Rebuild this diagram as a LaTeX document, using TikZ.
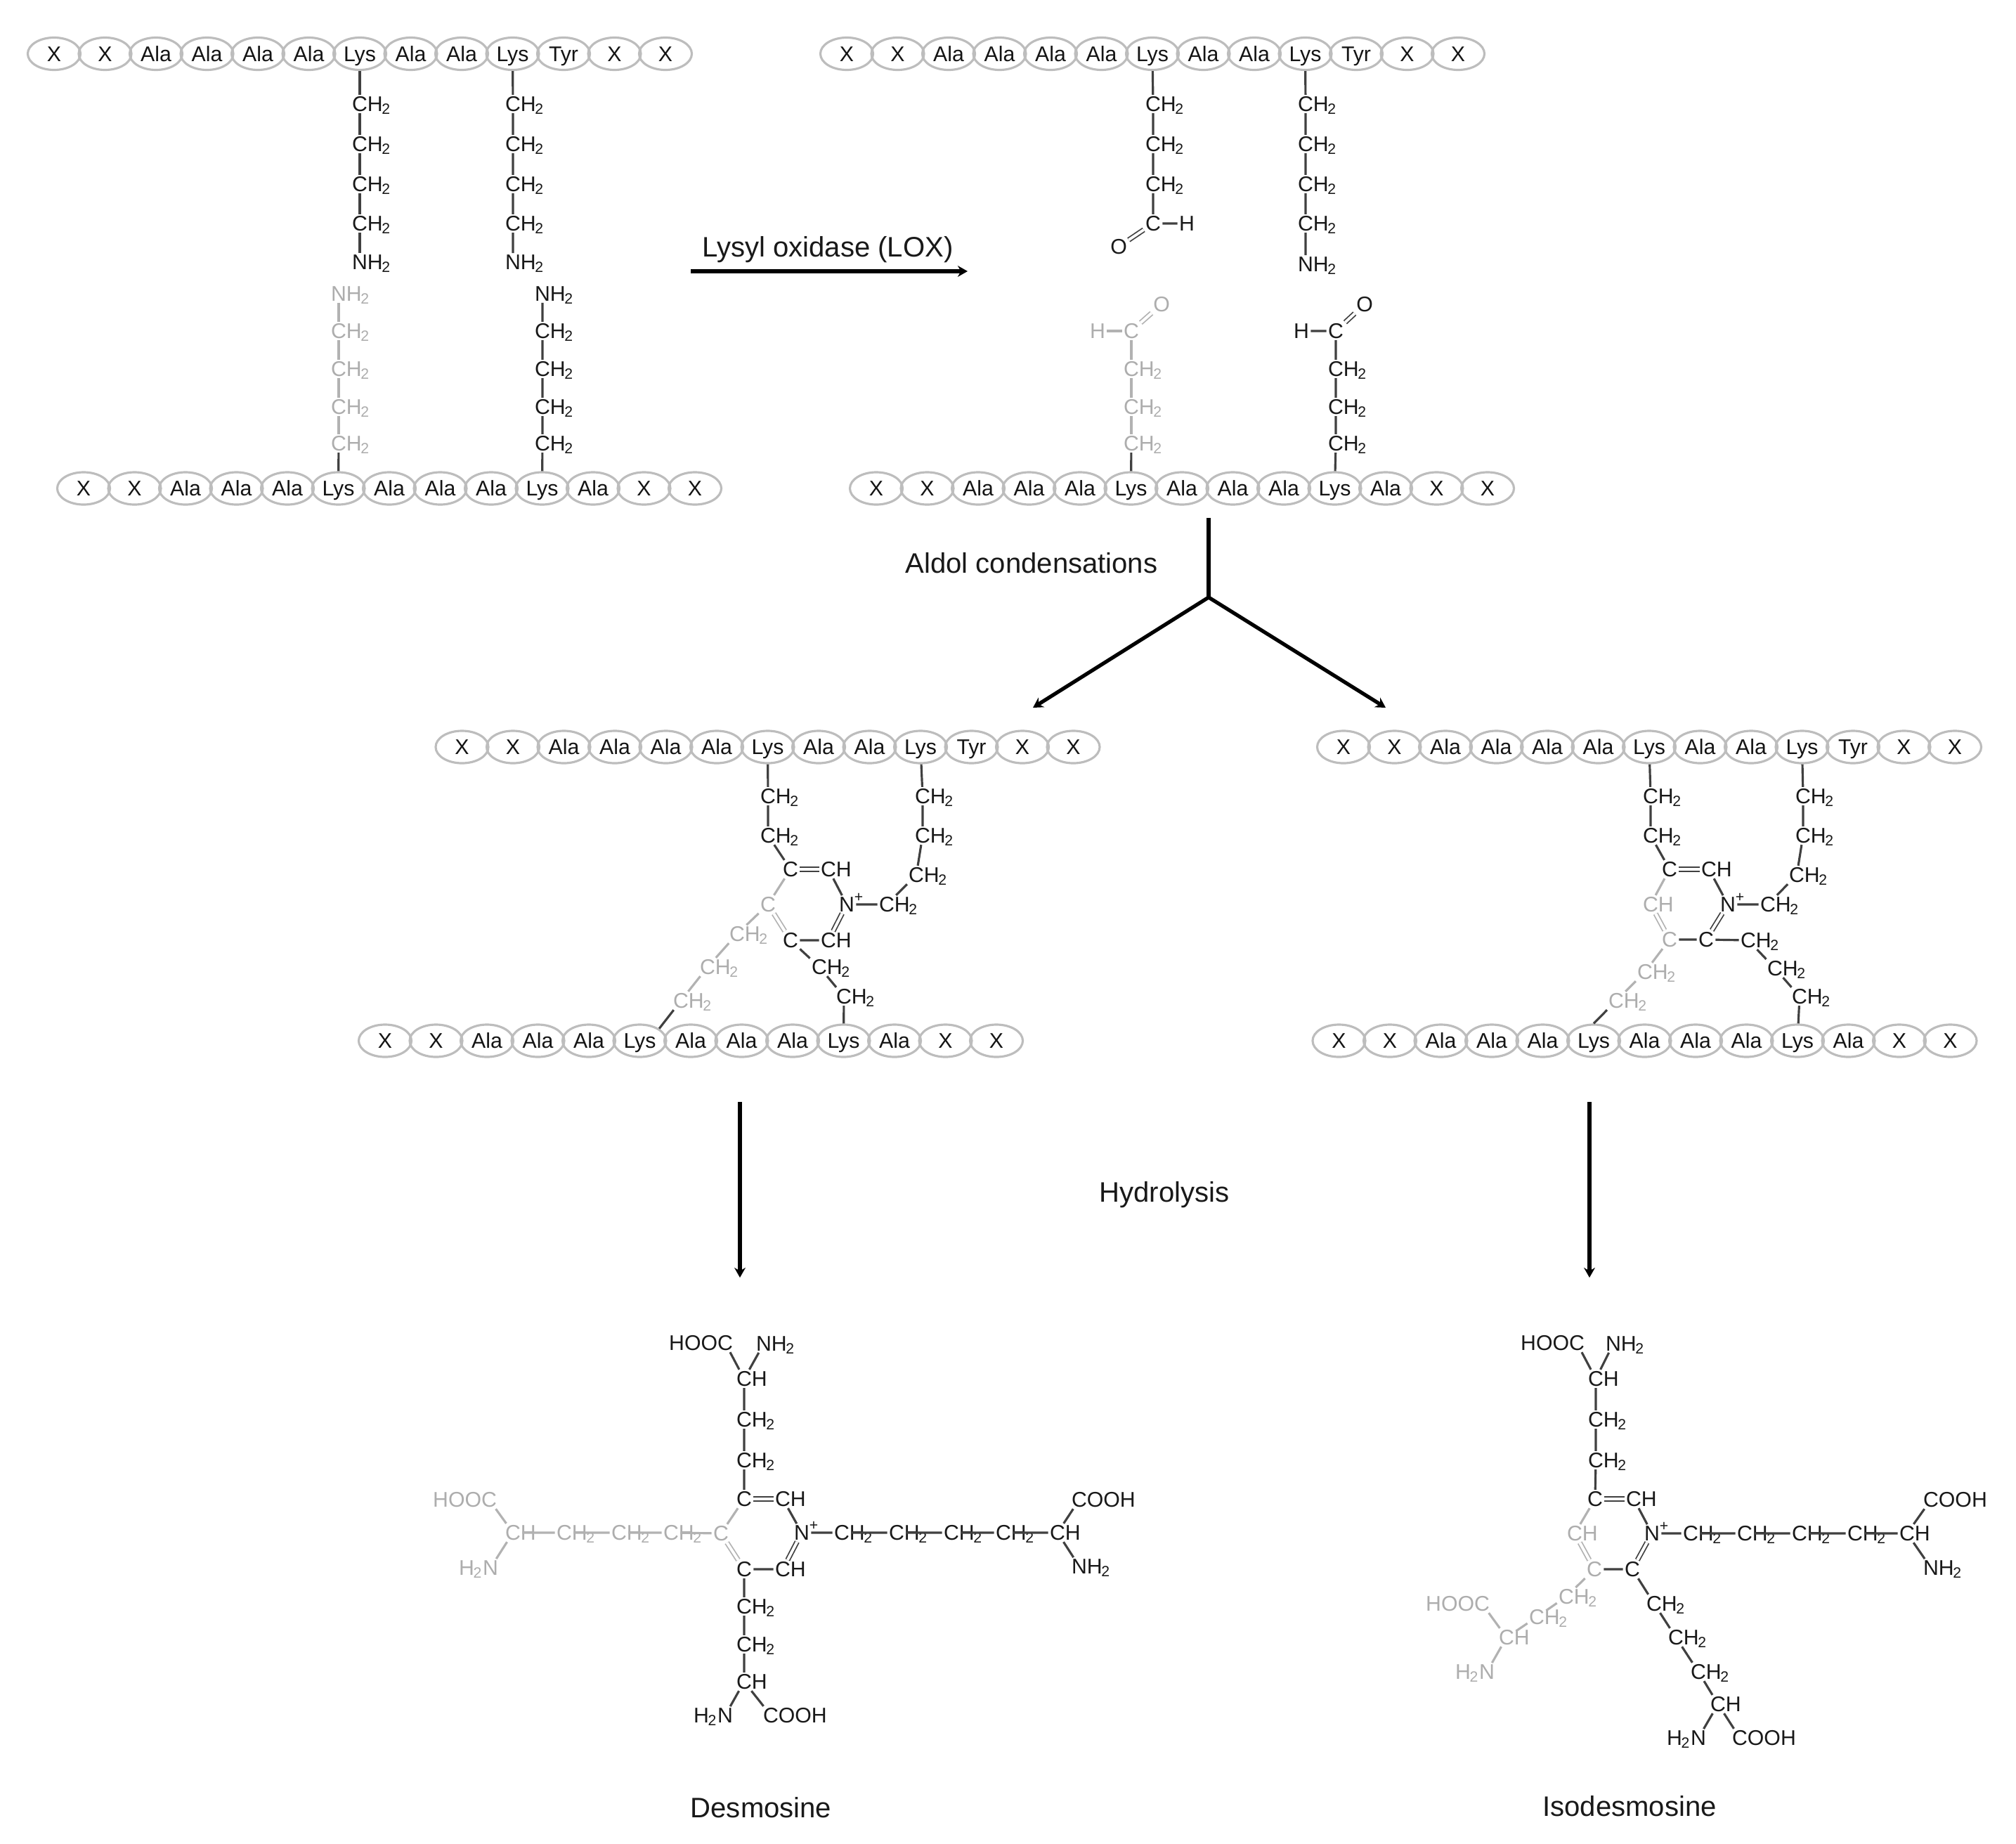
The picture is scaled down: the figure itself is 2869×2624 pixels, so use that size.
\documentclass[tikz,border=0pt]{standalone}
\usepackage{fontspec}
\setmainfont{Liberation Sans}
\usetikzlibrary{arrows.meta, shapes.geometric}

\newcommand{\subtwo}{\kern-0.4pt\textsubscript{2}}
\newcommand{\chtwo}{C\rlap{\smash{H\subtwo}}}
\newcommand{\chone}{C\rlap{H}}
\newcommand{\nhtwo}{N\rlap{\smash{H\subtwo}}}
\newcommand{\htwon}{\llap{\smash{H\subtwo}}N}
\newcommand{\hooc}{\llap{HOO}C}
\newcommand{\cooh}{C\rlap{OOH}}
\newcommand{\nplus}{N\rlap{\smash{\textsuperscript{+}}}}
\newcommand{\upperseq}{X,X,Ala,Ala,Ala,Ala,Lys,Ala,Ala,Lys,Tyr,X,X}
\newcommand{\lowerseq}{X,X,Ala,Ala,Ala,Lys,Ala,Ala,Ala,Lys,Ala,X,X}
\newcommand{\peptide}[4]{\foreach \res [count=\i] in #4 {\node[bead] (#1_\i) at ({#2+72.5*(\i-1)},#3) {\res};}}

\tikzset{
  bead/.style={ellipse,draw=black!26,line width=0.9pt,minimum width=0.75cm,minimum height=0.46cm,inner sep=0pt,
    text height=6.2pt,text depth=0pt,font=\fontsize{8.6}{10}\selectfont,text=black!92},
  atom/.style={inner sep=0.5pt,font=\fontsize{8.6}{10}\selectfont,text=black!90},
  faint/.style={atom,text=black!32},
  bond/.style={draw=black!75,line width=0.9pt},
  fbond/.style={draw=black!30,line width=0.9pt},
  dbl/.style={bond,double=white,double distance=1.1pt,line width=0.5pt},
  fdbl/.style={fbond,double=white,double distance=1.1pt,line width=0.5pt},
  caption/.style={inner sep=0pt,font=\fontsize{11.4}{13}\selectfont,text=black!90},
  flow/.style={draw=black,line width=1.5pt,-{Stealth[length=4pt,width=4.5pt]}},
}

\begin{document}
\begin{tikzpicture}[x=0.01cm,y=-0.01cm]
  \useasboundingbox (0,0) rectangle (2869,2624);

  % step one, before the enzyme
  \peptide{a}{77}{76.5}{\upperseq}
  \peptide{b}{119}{695}{\lowerseq}
  \foreach \y [count=\i] in {148,205,262,318} {
    \node[atom] (al_\i) at (512,\y) {\chtwo};
    \node[atom] (ar_\i) at (730,\y) {\chtwo};
  }
  \node[atom] (al_5) at (512,373) {\nhtwo};
  \node[atom] (ar_5) at (730,373) {\nhtwo};
  \node[faint] (bl_5) at (482,418) {\nhtwo};
  \node[atom] (br_5) at (772,418) {\nhtwo};
  \foreach \y [count=\i] in {631,579,525,471} {
    \node[faint] (bl_\i) at (482,\y) {\chtwo};
    \node[atom] (br_\i) at (772,\y) {\chtwo};
  }
  \draw[bond] (a_7) -- (al_1) -- (al_2) -- (al_3) -- (al_4) -- (al_5);
  \draw[bond] (a_10) -- (ar_1) -- (ar_2) -- (ar_3) -- (ar_4) -- (ar_5);
  \draw[bond] (b_6) -- (bl_1);
  \draw[fbond] (bl_1) -- (bl_2) -- (bl_3) -- (bl_4) -- (bl_5);
  \draw[bond] (b_10) -- (br_1) -- (br_2) -- (br_3) -- (br_4) -- (br_5);

  \node[caption] (lox) at (1178,355) {Lysyl oxidase (LOX)};
  \coordinate (lox_in) at (983,386);
  \coordinate (lox_out) at (1377,386);
  \draw[flow] (lox_in) -- (lox_out);

  % step one, after the enzyme
  \peptide{c}{1205}{76.5}{\upperseq}
  \peptide{d}{1247}{695}{\lowerseq}
  \foreach \y [count=\i] in {148,205,262} {
    \node[atom] (cl_\i) at (1641,\y) {\chtwo};
  }
  \node[atom] (cl_c) at (1641,318) {C};
  \node[atom] (cl_h) at (1689,318) {H};
  \node[atom] (cl_o) at (1592,351) {O};
  \foreach \y [count=\i] in {148,205,262,318} {
    \node[atom] (cr_\i) at (1858,\y) {\chtwo};
  }
  \node[atom] (cr_5) at (1858,376) {\nhtwo};
  \foreach \y [count=\i] in {631,579,525} {
    \node[faint] (dl_\i) at (1610,\y) {\chtwo};
    \node[atom] (dr_\i) at (1901,\y) {\chtwo};
  }
  \node[faint] (dl_c) at (1610,471) {C};
  \node[faint] (dl_h) at (1562,471) {H};
  \node[faint] (dl_o) at (1653,433) {O};
  \node[atom] (dr_c) at (1901,471) {C};
  \node[atom] (dr_h) at (1852,471) {H};
  \node[atom] (dr_o) at (1942,433) {O};
  \draw[bond] (c_7) -- (cl_1) -- (cl_2) -- (cl_3) -- (cl_c) -- (cl_h);
  \draw[dbl] (cl_c) -- (cl_o);
  \draw[bond] (c_10) -- (cr_1) -- (cr_2) -- (cr_3) -- (cr_4) -- (cr_5);
  \draw[bond] (d_6) -- (dl_1);
  \draw[fbond] (dl_1) -- (dl_2) -- (dl_3) -- (dl_c) -- (dl_h);
  \draw[fdbl] (dl_c) -- (dl_o);
  \draw[bond] (d_10) -- (dr_1) -- (dr_2) -- (dr_3) -- (dr_c) -- (dr_h);
  \draw[dbl] (dr_c) -- (dr_o);

  % the fork
  \node[caption] (aldol) at (1468,801) {Aldol condensations};
  \coordinate (fork_top) at (1720,737);
  \coordinate (fork) at (1720,850);
  \coordinate (fork_l) at (1470,1007);
  \coordinate (fork_r) at (1972,1007);
  \draw[draw=black,line width=1.5pt] (fork_top) -- (fork);
  \draw[flow] (fork) -- (fork_l);
  \draw[flow] (fork) -- (fork_r);

  % cross-linked, left
  \peptide{e}{657.5}{1063}{\upperseq}
  \peptide{f}{548}{1481}{\lowerseq}
  \node[atom] (e1) at (1093,1133) {\chtwo};
  \node[atom] (e2) at (1093,1189) {\chtwo};
  \node[atom] (e3) at (1125,1237) {C};
  \node[atom] (e4) at (1179,1237) {\chone};
  \node[atom] (e5) at (1205,1287) {\nplus};
  \node[atom] (e6) at (1262,1287) {\chtwo};
  \node[atom] (e7) at (1304,1245) {\chtwo};
  \node[atom] (e8) at (1313,1189) {\chtwo};
  \node[atom] (e9) at (1313,1133) {\chtwo};
  \node[faint] (e10) at (1093,1287) {C};
  \node[atom] (e11) at (1125,1338) {C};
  \node[atom] (e12) at (1179,1338) {\chone};
  \node[atom] (e13) at (1166,1376) {\chtwo};
  \node[atom] (e14) at (1201,1418) {\chtwo};
  \node[faint] (e15) at (1049,1329) {\chtwo};
  \node[faint] (e16) at (1007,1376) {\chtwo};
  \node[faint] (e17) at (969,1424) {\chtwo};
  \draw[bond] (e_7) -- (e1) -- (e2) -- (e3);
  \draw[dbl] (e3) -- (e4);
  \draw[bond] (e4) -- (e5) -- (e6) -- (e7) -- (e8) -- (e9) -- (e_10);
  \draw[dbl] (e5) -- (e12);
  \draw[bond] (e12) -- (e11) -- (e13) -- (e14) -- (f_10);
  \draw[fbond] (e3) -- (e10) -- (e15) -- (e16) -- (e17);
  \draw[fdbl] (e10) -- (e11);
  \draw[bond] (e17) -- (f_6.north east);

  % cross-linked, right
  \peptide{g}{1912}{1063}{\upperseq}
  \peptide{h}{1905.5}{1481}{\lowerseq}
  \node[atom] (g1) at (2349,1133) {\chtwo};
  \node[atom] (g2) at (2349,1189) {\chtwo};
  \node[atom] (g3) at (2376,1237) {C};
  \node[atom] (g4) at (2432,1237) {\chone};
  \node[atom] (g5) at (2459,1287) {\nplus};
  \node[atom] (g6) at (2516,1287) {\chtwo};
  \node[atom] (g7) at (2557,1245) {\chtwo};
  \node[atom] (g8) at (2566,1189) {\chtwo};
  \node[atom] (g9) at (2566,1133) {\chtwo};
  \node[faint] (g10) at (2349,1287) {\chone};
  \node[faint] (g11) at (2376,1337) {C};
  \node[atom] (g12) at (2428,1337) {C};
  \node[atom] (g13) at (2488,1338) {\chtwo};
  \node[atom] (g14) at (2526,1378) {\chtwo};
  \node[atom] (g15) at (2561,1418) {\chtwo};
  \node[faint] (g16) at (2341,1383) {\chtwo};
  \node[faint] (g17) at (2300,1424) {\chtwo};
  \draw[bond] (g_7) -- (g1) -- (g2) -- (g3);
  \draw[dbl] (g3) -- (g4);
  \draw[bond] (g4) -- (g5) -- (g6) -- (g7) -- (g8) -- (g9) -- (g_10);
  \draw[dbl] (g5) -- (g12);
  \draw[bond] (g11) -- (g12) -- (g13) -- (g14) -- (g15) -- (h_10);
  \draw[fbond] (g3) -- (g10);
  \draw[fdbl] (g10) -- (g11);
  \draw[fbond] (g11) -- (g16) -- (g17);
  \draw[bond] (g17) -- (h_6.north);

  % hydrolysis
  \node[caption] (hydro) at (1657,1700) {Hydrolysis};
  \coordinate (hl_in) at (1053,1568);
  \coordinate (hl_out) at (1053,1818);
  \coordinate (hr_in) at (2262,1568);
  \coordinate (hr_out) at (2262,1818);
  \draw[flow] (hl_in) -- (hl_out);
  \draw[flow] (hr_in) -- (hr_out);

  % desmosine
  \node[atom] (m1) at (1032,1911) {\hooc};
  \node[atom] (m2) at (1087,1912) {\nhtwo};
  \node[atom] (m3) at (1059,1962) {\chone};
  \node[atom] (m4) at (1059,2020) {\chtwo};
  \node[atom] (m5) at (1059,2078) {\chtwo};
  \node[atom] (m6) at (1059,2133) {C};
  \node[atom] (m7) at (1114,2133) {\chone};
  \node[atom] (m8) at (1141,2181) {\nplus};
  \node[faint] (m9) at (1026,2182) {C};
  \node[atom] (m10) at (1059,2233) {C};
  \node[atom] (m11) at (1114,2233) {\chone};
  \foreach \x [count=\i] in {1198,1276,1354,1428} {
    \node[atom] (mr_\i) at (\x,2181) {\chtwo};
  }
  \node[atom] (mr_5) at (1505,2181) {\chone};
  \node[atom] (mr_6) at (1536,2134) {\cooh};
  \node[atom] (mr_7) at (1536,2229) {\nhtwo};
  \foreach \x [count=\i] in {955,881,803} {
    \node[faint] (ml_\i) at (\x,2181) {\chtwo};
  }
  \node[faint] (ml_4) at (730,2181) {\chone};
  \node[faint] (ml_5) at (696,2134) {\hooc};
  \node[faint] (ml_6) at (698,2231) {\htwon};
  \node[atom] (mb_1) at (1059,2286) {\chtwo};
  \node[atom] (mb_2) at (1059,2340) {\chtwo};
  \node[atom] (mb_3) at (1059,2393) {\chone};
  \node[atom] (mb_4) at (1032,2441) {\htwon};
  \node[atom] (mb_5) at (1097,2441) {\cooh};
  \draw[bond] (m1) -- (m3) -- (m4) -- (m5) -- (m6);
  \draw[bond] (m2) -- (m3);
  \draw[dbl] (m6) -- (m7);
  \draw[bond] (m7) -- (m8) -- (mr_1) -- (mr_2) -- (mr_3) -- (mr_4) -- (mr_5) -- (mr_6);
  \draw[bond] (mr_5) -- (mr_7);
  \draw[dbl] (m8) -- (m11);
  \draw[bond] (m11) -- (m10) -- (mb_1) -- (mb_2) -- (mb_3) -- (mb_4);
  \draw[bond] (mb_3) -- (mb_5);
  \draw[fbond] (m6) -- (m9) -- (ml_1) -- (ml_2) -- (ml_3) -- (ml_4) -- (ml_5);
  \draw[fbond] (ml_4) -- (ml_6);
  \draw[fdbl] (m9) -- (m10);
  \node[caption] (desmo) at (1083,2572) {Desmosine};

  % isodesmosine
  \node[atom] (n1) at (2244,1911) {\hooc};
  \node[atom] (n2) at (2296,1912) {\nhtwo};
  \node[atom] (n3) at (2271,1962) {\chone};
  \node[atom] (n4) at (2271,2020) {\chtwo};
  \node[atom] (n5) at (2271,2078) {\chtwo};
  \node[atom] (n6) at (2270,2133) {C};
  \node[atom] (n7) at (2325,2133) {\chone};
  \node[atom] (n8) at (2351,2182) {\nplus};
  \node[faint] (n9) at (2241,2182) {\chone};
  \node[faint] (n10) at (2269,2233) {C};
  \node[atom] (n11) at (2323,2233) {C};
  \foreach \x [count=\i] in {2406,2483,2561,2640} {
    \node[atom] (nr_\i) at (\x,2182) {\chtwo};
  }
  \node[atom] (nr_5) at (2714,2182) {\chone};
  \node[atom] (nr_6) at (2748,2134) {\cooh};
  \node[atom] (nr_7) at (2748,2231) {\nhtwo};
  \node[faint] (nl_1) at (2229,2272) {\chtwo};
  \node[faint] (nl_2) at (2187,2301) {\chtwo};
  \node[faint] (nl_3) at (2144,2330) {\chone};
  \node[faint] (nl_4) at (2109,2282) {\hooc};
  \node[faint] (nl_5) at (2116,2379) {\htwon};
  \node[atom] (nb_1) at (2354,2282) {\chtwo};
  \node[atom] (nb_2) at (2385,2330) {\chtwo};
  \node[atom] (nb_3) at (2417,2379) {\chtwo};
  \node[atom] (nb_4) at (2445,2425) {\chone};
  \node[atom] (nb_5) at (2417,2473) {\htwon};
  \node[atom] (nb_6) at (2476,2473) {\cooh};
  \draw[bond] (n1) -- (n3) -- (n4) -- (n5) -- (n6);
  \draw[bond] (n2) -- (n3);
  \draw[dbl] (n6) -- (n7);
  \draw[bond] (n7) -- (n8) -- (nr_1) -- (nr_2) -- (nr_3) -- (nr_4) -- (nr_5) -- (nr_6);
  \draw[bond] (nr_5) -- (nr_7);
  \draw[dbl] (n8) -- (n11);
  \draw[bond] (n10) -- (n11) -- (nb_1) -- (nb_2) -- (nb_3) -- (nb_4) -- (nb_5);
  \draw[bond] (nb_4) -- (nb_6);
  \draw[fbond] (n6) -- (n9);
  \draw[fdbl] (n9) -- (n10);
  \draw[fbond] (n10) -- (nl_1) -- (nl_2) -- (nl_3) -- (nl_4);
  \draw[fbond] (nl_3) -- (nl_5);
  \node[caption] (isodesmo) at (2319,2570) {Isodesmosine};
\end{tikzpicture}
\end{document}
